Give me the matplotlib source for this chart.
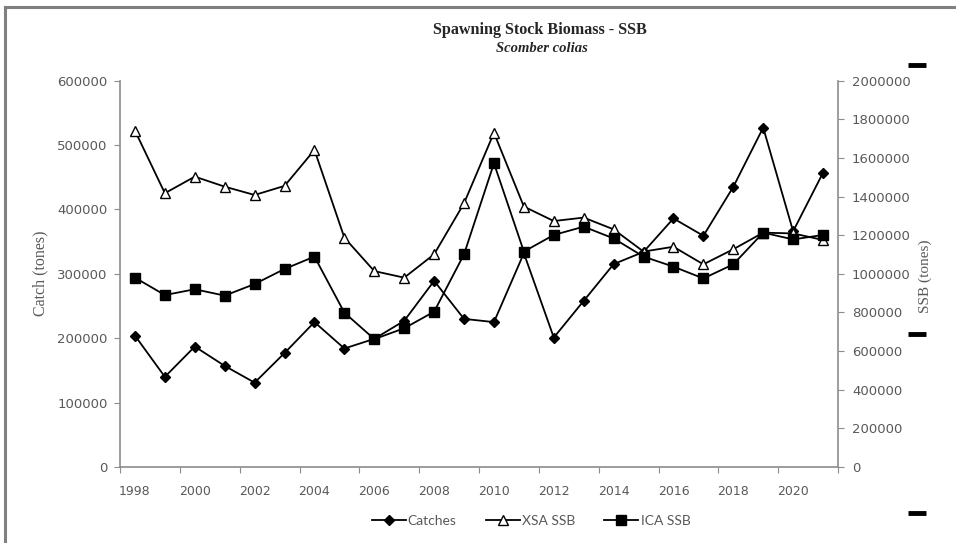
import matplotlib
matplotlib.use("Agg")
import matplotlib.pyplot as plt
from matplotlib.lines import Line2D

years = list(range(1998, 2022))
catches = [204000, 140000, 187000, 157000, 131000, 177000, 225000, 184000, 199000, 227000,
           289000, 230000, 225000, 332000, 201000, 258000, 315000, 334000, 386000, 359000,
           435000, 527000, 366000, 457000]
xsa_ssb = [1741000, 1417000, 1503000, 1451000, 1408000, 1455000, 1641000, 1187000, 1014000, 980000,
           1101000, 1365000, 1730000, 1348000, 1273000, 1291000, 1230000, 1115000, 1140000, 1049000,
           1127000, 1213000, 1209000, 1175000]
ica_ssb = [980000, 890000, 920000, 887000, 947000, 1025000, 1089000, 799000, 662000, 718000,
           804000, 1101000, 1572000, 1115000, 1201000, 1244000, 1183000, 1089000, 1037000, 976000,
           1049000, 1213000, 1178000, 1201000]
left_ticks = [0, 100000, 200000, 300000, 400000, 500000, 600000]
right_ticks = [0, 200000, 400000, 600000, 800000, 1000000, 1200000, 1400000, 1600000, 1800000, 2000000]
year_labels = list(range(1998, 2021, 2))

W, H = 956, 543
fig = plt.figure(figsize=(W / 100, H / 100), dpi=100)
ax = fig.add_axes([120 / W, 1 - 467 / H, (838 - 120) / W, (467 - 80.6) / H])
ax2 = ax.twinx()

tick_color = "#595959"
spine_color = "#8c8c8c"
lw = 1.3

ax.plot(years, catches, color="black", lw=lw, marker="D", ms=5.5, mfc="black", mec="black", zorder=3)
ax2.plot(years, xsa_ssb, color="black", lw=lw, marker="^", ms=7.5, mfc="white", mec="black", mew=1, zorder=3)
ax2.plot(years, ica_ssb, color="black", lw=lw, marker="s", ms=7.5, mfc="black", mec="black", zorder=3)

ax.set_xlim(1997.5, 2021.5)
ax.set_ylim(0, 600000)
ax2.set_ylim(0, 2000000)

ax.set_yticks(left_ticks)
ax.set_yticklabels([str(v) for v in left_ticks])
ax2.set_yticks(right_ticks)
ax2.set_yticklabels([str(v) for v in right_ticks])

ax.set_xticks([y - 0.5 for y in year_labels] + [2021.5])
ax.set_xticklabels([])
ax.set_xticks(year_labels, minor=True)
ax.set_xticklabels([str(y) for y in year_labels], minor=True)
ax.tick_params(axis="x", which="minor", length=0, pad=13, labelsize=9, labelcolor=tick_color)
ax.tick_params(axis="x", which="major", length=4, color=spine_color, direction="out")
ax.tick_params(axis="y", length=4, color=spine_color, labelsize=9.5, labelcolor=tick_color, pad=5)
ax2.tick_params(axis="y", length=4, color=spine_color, labelsize=9.5, labelcolor=tick_color, pad=6)

for a in (ax, ax2):
    a.spines["top"].set_visible(False)
    for s in ("left", "right", "bottom"):
        a.spines[s].set_color(spine_color)
        a.spines[s].set_linewidth(1.2)
ax2.spines["left"].set_visible(False)
ax2.spines["bottom"].set_visible(False)
ax.spines["right"].set_visible(False)

serif = ["Liberation Serif", "DejaVu Serif"]
fig.text(40 / W, 1 - 273 / H, "Catch (tones)", rotation=90, ha="center", va="center",
         fontsize=11.5, family=serif, color=tick_color)
fig.text(925 / W, 1 - 276 / H, "SSB (tones)", rotation=90, ha="center", va="center",
         fontsize=11, family=serif, color=tick_color)
fig.text(540 / W, 1 - 30 / H, "Spawning Stock Biomass - SSB", ha="center", va="center",
         fontsize=11.6, family=serif, weight="bold", color="#262626")
fig.text(542 / W, 1 - 48 / H, "Scomber colias", ha="center", va="center",
         fontsize=10.5, family=serif, style="italic", weight="bold", color="#262626")

handles = [
    Line2D([], [], color="black", lw=lw, marker="D", ms=5.5, mfc="black"),
    Line2D([], [], color="black", lw=lw, marker="^", ms=7.5, mfc="white", mec="black"),
    Line2D([], [], color="black", lw=lw, marker="s", ms=7.5, mfc="black"),
]
leg = fig.legend(handles, ["Catches", "XSA SSB", "ICA SSB"], loc="center",
                 bbox_to_anchor=(531 / W, 1 - 521 / H), ncol=3, frameon=False,
                 handlelength=2.45, columnspacing=2.1, handletextpad=0.15,
                 prop={"family": ["Lato", "DejaVu Sans"], "size": 10})
for t in leg.get_texts():
    t.set_color(tick_color)

# border lines
fig.add_artist(Line2D([5 / W, 5 / W], [0, 1 - 7 / H], color="#808080", lw=2.2))
fig.add_artist(Line2D([5 / W, 1], [1 - 7 / H, 1 - 7 / H], color="#808080", lw=2.2))
# black dashes on the right
for yy in (65, 334, 513):
    fig.add_artist(Line2D([908 / W, 926 / W], [1 - yy / H, 1 - yy / H], color="black", lw=3.5,
                          solid_capstyle="butt"))

fig.savefig("out.png", dpi=100, facecolor="white")
